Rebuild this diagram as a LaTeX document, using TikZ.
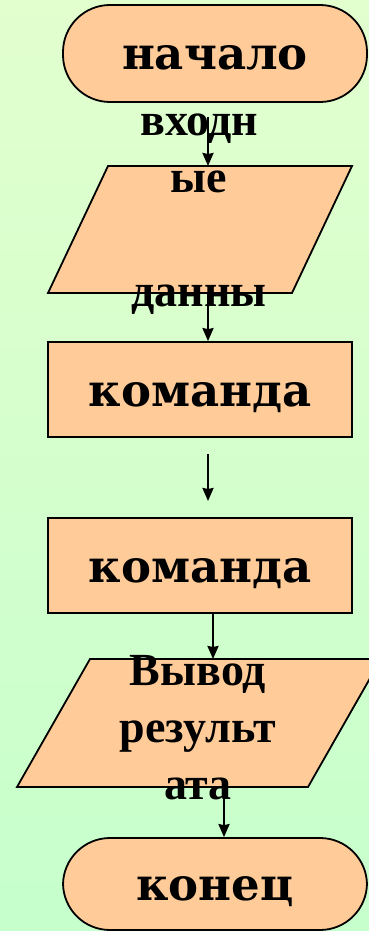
\documentclass[tikz,border=0pt]{standalone}
\usepackage{fontspec}
\setmainfont{Liberation Serif}
\newfontfamily\boxfont{DejaVu Serif}
\usetikzlibrary{arrows.meta}

\definecolor{bgtop}{HTML}{E2FFCE}
\definecolor{bgbottom}{HTML}{C6FFCC}
\definecolor{peach}{HTML}{FFCC99}

\tikzset{
  term/.style={draw, fill=peach, rounded corners=47pt, minimum width=304pt, minimum height=97pt,
    text height=33pt, text depth=0pt, font=\boxfont\bfseries\fontsize{45}{54}\selectfont},
  cmdbox/.style={draw, fill=peach, minimum width=304pt, minimum height=95pt,
    text height=33pt, text depth=0pt, font=\boxfont\bfseries\fontsize{45}{54}\selectfont},
  iotext/.style={align=center, inner sep=0pt, font=\bfseries\fontsize{46}{57}\selectfont},
  flow/.style={-{Stealth[length=13pt, width=11pt, inset=1pt]}, line width=2.2pt},
}

\begin{document}
\begin{tikzpicture}[x=1pt, y=-1pt, line width=1.8pt]

  \shade[top color=bgtop, bottom color=bgbottom] (0,0) rectangle (369,931);
  \clip (0,0) rectangle (369,931);

  \node[term] (start) at (215,53.5) {начало};

  % input data
  \draw[fill=peach] (108,166) coordinate (inNW) -- (352,166) coordinate (inNE)
    -- (292,293) coordinate (inSE) -- (48,293) coordinate (inSW) -- cycle;
  \node[iotext, anchor=north] (input) at (199,113) {входн\\ые\\[57pt]данны};

  \node[cmdbox] (cmd1) at (200,389.5) {команда};
  \node[cmdbox] (cmd2) at (200,565.5) {команда};

  % output
  \draw[fill=peach] (90,659) coordinate (outNW) -- (381,659) coordinate (outNE)
    -- (308,787) coordinate (outSE) -- (17,787) coordinate (outSW) -- cycle;
  \node[iotext, anchor=north] (output) at (198,654) {Вывод\\результ\\ата};

  \node[term, minimum height=92pt] (stop) at (215,884) {конец};

  \coordinate (a1) at (208,117);
  \coordinate (a3s) at (208,454);
  \coordinate (a3e) at (208,501);
  \coordinate (a4) at (213,0);
  \coordinate (a5) at (224,794);

  \draw[flow] (a1) -- (a1 |- inNW);
  \draw[flow] (a1 |- inSW) -- (a1 |- cmd1.north);
  \draw[flow] (a3s) -- (a3e);
  \draw[flow] (a4 |- cmd2.south) -- (a4 |- outNW);
  \draw[flow] (a5) -- (a5 |- stop.north);

\end{tikzpicture}
\end{document}
